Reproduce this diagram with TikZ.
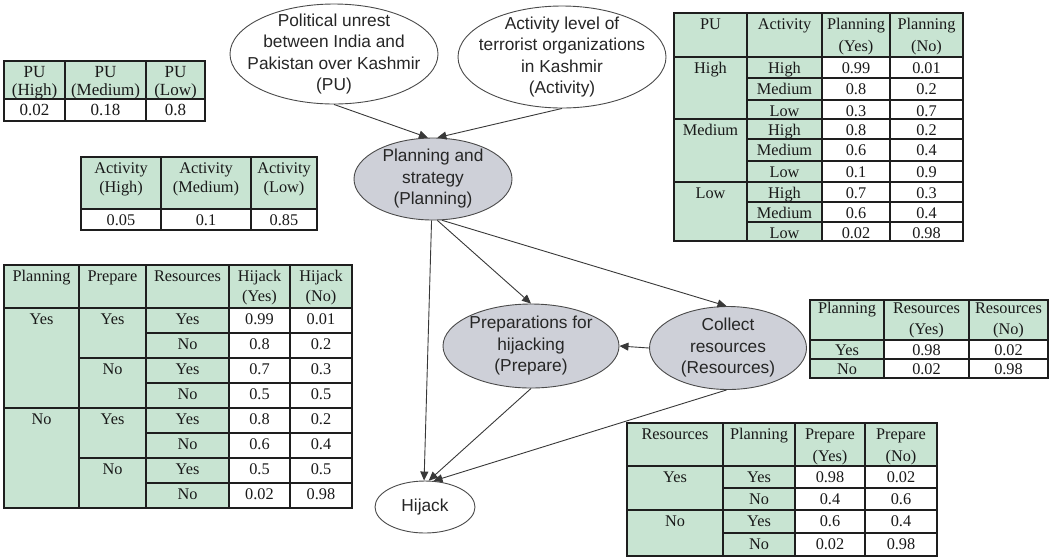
\documentclass[tikz,border=0pt]{standalone}
\usepackage{fontspec}
\setmainfont{Liberation Serif}
\newfontfamily\ellfont{Liberation Sans}
\usetikzlibrary{shapes.geometric,arrows.meta}

\definecolor{tgreen}{HTML}{C8E4D2}
\definecolor{ngray}{HTML}{CED0D8}
\definecolor{tline}{HTML}{1E1E1E}
\definecolor{eline}{HTML}{4A4A4A}

% table cell: x1, y1, x2, y2, fill, text (text sits on the cell's first line)
\newcount\cellno
\def\toff{2.5}   % gap between cell top and the strut top
\def\tskip{21}   % line spacing of two-line headings
\def\tsize{16.3} % type size of table text
\newcommand\tstrut{\rule{0pt}{14pt}}
\newcommand\tc[6]{%
  \global\advance\cellno by 1
  \path[draw=tline, fill=#5, line width=2pt] (#1,#2) rectangle (#3,#4);
  \node[tabtxt] (cell\the\cellno) at ({(#1+#3)/2},{#2+\toff}) {\tstrut #6};}

\tikzset{
  tabtxt/.style={anchor=north, inner sep=0pt, align=center,
    font=\fontsize{\tsize}{\tskip}\selectfont, text=black!90},
  eshape/.style={ellipse, draw=eline, line width=0.9pt, inner sep=0pt},
  etext/.style={inner sep=0pt, align=center,
    font=\ellfont\fontsize{17.3}{21.5}\selectfont, text=black!85},
  link/.style={draw=black!78, line width=0.9pt,
    -{Triangle[length=9pt,width=8pt]}}
}

\begin{document}
\begin{tikzpicture}[x=1pt,y=-1pt]
\useasboundingbox (0,0) rectangle (1051,558);

% ---------- network ----------
\node[eshape, fill=white, minimum width=208pt, minimum height=100pt] (pu) at (334,54) {};
\node[etext] (pu-t) at (pu.center)
  {Political unrest\\between India and\\Pakistan over Kashmir\\(PU)};
\node[eshape, fill=white, minimum width=208pt, minimum height=102pt] (act) at (562,57) {};
\node[etext] (act-t) at (act.center)
  {Activity level of\\terrorist organizations\\in Kashmir\\(Activity)};
\node[eshape, fill=ngray, minimum width=158pt, minimum height=82pt] (plan) at (433,179) {};
\node[etext] (plan-t) at (plan.center) {Planning and\\strategy\\(Planning)};
\node[eshape, fill=ngray, minimum width=176pt, minimum height=84pt] (prep) at (531,346) {};
\node[etext] (prep-t) at (prep.center) {Preparations for\\hijacking\\(Prepare)};
\node[eshape, fill=ngray, minimum width=157pt, minimum height=83pt] (res) at (728,348) {};
\node[etext] (res-t) at (res.center) {Collect\\resources\\(Resources)};
\node[eshape, fill=white, minimum width=100pt, minimum height=52pt] (hij) at (425,507) {};
\node[etext] (hij-t) at (hij.center) {Hijack};

\draw[link] (pu.south) -- (plan.97);
\draw[link] (act.south) -- (plan.84);
\draw[link] (plan.-92) -- (hij.92);
\draw[link] (plan.-84) -- (prep.north);
\draw[link] (plan.-78) -- (res.92);
\draw[link] (res.west) -- (prep.east);
\draw[link] (prep.south) -- (hij.82);
\draw[link] (res.-92) -- (hij.72);

% ---------- P(PU) ----------
\def\tskip{18}
\def\tsize{17}
\tc{4}{61}{65}{99}{tgreen}{PU\\(High)}
\tc{65}{61}{146}{99}{tgreen}{PU\\(Medium)}
\tc{146}{61}{205}{99}{tgreen}{PU\\(Low)}
\tc{4}{99}{65}{121}{white}{0.02}
\tc{65}{99}{146}{121}{white}{0.18}
\tc{146}{99}{205}{121}{white}{0.8}
\def\tsize{16.3}

% ---------- P(Activity) ----------
\def\tskip{19}
\tc{81}{157}{161}{209}{tgreen}{Activity\\(High)}
\tc{161}{157}{251}{209}{tgreen}{Activity\\(Medium)}
\tc{251}{157}{317}{209}{tgreen}{Activity\\(Low)}
\tc{81}{209}{161}{230}{white}{0.05}
\tc{161}{209}{251}{230}{white}{0.1}
\tc{251}{209}{317}{230}{white}{0.85}

% ---------- P(Planning | PU, Activity) ----------
\def\tskip{22}
\tc{674}{13}{747}{57}{tgreen}{PU}
\tc{747}{13}{822}{57}{tgreen}{Activity}
\tc{822}{13}{890}{57}{tgreen}{Planning\\(Yes)}
\tc{890}{13}{963}{57}{tgreen}{Planning\\(No)}
\tc{674}{57}{747}{119}{tgreen}{High}
\tc{674}{119}{747}{182}{tgreen}{Medium}
\tc{674}{182}{747}{241}{tgreen}{Low}
\foreach \ya/\yb/\a/\p/\q in {57/78/High/0.99/0.01, 78/100/Medium/0.8/0.2,
    100/119/Low/0.3/0.7, 119/139/High/0.8/0.2, 139/161/Medium/0.6/0.4,
    161/182/Low/0.1/0.9, 182/202/High/0.7/0.3, 202/222/Medium/0.6/0.4,
    222/241/Low/0.02/0.98}{
  \tc{747}{\ya}{822}{\yb}{tgreen}{\a}
  \tc{822}{\ya}{890}{\yb}{white}{\p}
  \tc{890}{\ya}{963}{\yb}{white}{\q}
}

% ---------- P(Hijack | Planning, Prepare, Resources) ----------
\def\tskip{20}
\tc{4}{265}{79}{308}{tgreen}{Planning}
\tc{79}{265}{146}{308}{tgreen}{Prepare}
\tc{146}{265}{229}{308}{tgreen}{Resources}
\tc{229}{265}{290}{308}{tgreen}{Hijack\\(Yes)}
\tc{290}{265}{352}{308}{tgreen}{Hijack\\(No)}
\tc{4}{308}{79}{408}{tgreen}{Yes}
\tc{4}{408}{79}{508}{tgreen}{No}
\tc{79}{308}{146}{358}{tgreen}{Yes}
\tc{79}{358}{146}{408}{tgreen}{No}
\tc{79}{408}{146}{458}{tgreen}{Yes}
\tc{79}{458}{146}{508}{tgreen}{No}
\foreach \ya/\yb/\a/\p/\q in {308/333/Yes/0.99/0.01, 333/358/No/0.8/0.2,
    358/383/Yes/0.7/0.3, 383/408/No/0.5/0.5, 408/433/Yes/0.8/0.2,
    433/458/No/0.6/0.4, 458/483/Yes/0.5/0.5, 483/508/No/0.02/0.98}{
  \tc{146}{\ya}{229}{\yb}{tgreen}{\a}
  \tc{229}{\ya}{290}{\yb}{white}{\p}
  \tc{290}{\ya}{352}{\yb}{white}{\q}
}

% ---------- P(Resources | Planning) ----------
\def\tskip{21}
\def\toff{-0.5}
\tc{810}{300}{884}{340}{tgreen}{Planning}
\tc{884}{300}{969}{340}{tgreen}{Resources\\(Yes)}
\tc{969}{300}{1048}{340}{tgreen}{Resources\\(No)}
\def\toff{1.5}
\foreach \ya/\yb/\a/\p/\q in {340/359/Yes/0.98/0.02, 359/378/No/0.02/0.98}{
  \tc{810}{\ya}{884}{\yb}{tgreen}{\a}
  \tc{884}{\ya}{969}{\yb}{white}{\p}
  \tc{969}{\ya}{1048}{\yb}{white}{\q}
}
\def\toff{2.5}

% ---------- P(Prepare | Resources, Planning) ----------
\def\tskip{22}
\tc{627}{423}{723}{466}{tgreen}{Resources}
\tc{723}{423}{795}{466}{tgreen}{Planning}
\tc{795}{423}{865}{466}{tgreen}{Prepare\\(Yes)}
\tc{865}{423}{937}{466}{tgreen}{Prepare\\(No)}
\tc{627}{466}{723}{510}{tgreen}{Yes}
\tc{627}{510}{723}{556}{tgreen}{No}
\foreach \ya/\yb/\a/\p/\q in {466/488/Yes/0.98/0.02, 488/510/No/0.4/0.6,
    510/533/Yes/0.6/0.4, 533/556/No/0.02/0.98}{
  \tc{723}{\ya}{795}{\yb}{tgreen}{\a}
  \tc{795}{\ya}{865}{\yb}{white}{\p}
  \tc{865}{\ya}{937}{\yb}{white}{\q}
}
\end{tikzpicture}
\end{document}
